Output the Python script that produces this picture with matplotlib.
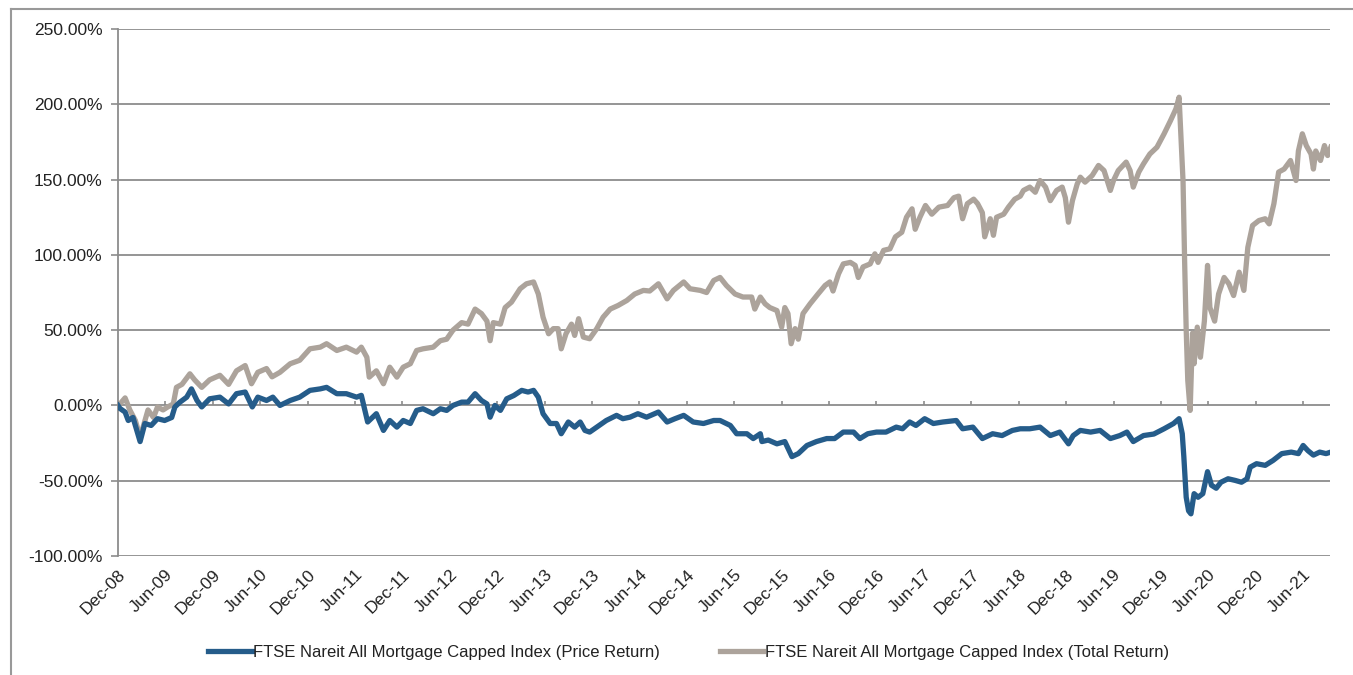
import matplotlib
matplotlib.use("Agg")
import matplotlib.pyplot as plt
from matplotlib.lines import Line2D

plt.rcParams['font.family'] = ['Liberation Sans', 'DejaVu Sans']

# months after Dec-08 (fractional) and cumulative return in %
price_t = [0, 0.25, 0.9, 1.3, 1.9, 2.8, 3.4, 4.2, 5, 5.9, 6.8, 7.2, 7.8, 8.7, 9.3, 10, 10.6,
           11.6, 12.9, 14, 15, 16.1, 17, 17.7, 18.8, 19.6, 20.5, 21.8, 23, 24.3, 25.6, 26.4,
           27.7, 28.9, 30.2, 30.8, 31.6, 32.7, 33.6, 34.4, 35.3, 36.1, 37, 37.8, 38.6, 39.9,
           40.8, 41.6, 42.4, 43.5, 44.3, 45.2, 46, 46.7, 47.1, 47.7, 48.4, 49.2, 50.1, 51.1,
           51.9, 52.6, 53.2, 53.8, 54.7, 55.5, 56.1, 57, 57.8, 58.5, 59.1, 59.7, 60.6, 61.8,
           63.1, 63.9, 64.8, 65.8, 66.9, 68.4, 69.5, 70.5, 71.6, 72.8, 74.1, 75.4, 76.2, 77.5,
           78.3, 79.6, 80.4, 81.3, 81.5, 82.3, 83.4, 84.4, 85.3, 86.1, 87.2, 88.4, 89.7, 90.7,
           91.8, 93.1, 93.9, 94.9, 96, 97.2, 98.5, 99.3, 100.2, 101, 102.1, 103.2, 104.4,
           106.1, 106.9, 108.2, 109.4, 110.7, 111.9, 113.2, 114.2, 115.4, 116.7, 118, 119.2,
           120.3, 120.9, 121.8, 123.1, 124.3, 125.6, 126.8, 127.7, 128.5, 129.8, 131.1, 132.4,
           133.6, 134.3, 134.7, 134.9, 135.2, 135.5, 135.8, 136.2, 136.7, 137.3, 137.9, 138.4,
           139, 139.6, 140.5, 141.4, 142.2, 142.9, 143.3, 144.1, 145.2, 146.2, 147.3, 148.5,
           149.4, 150, 150.6, 151.3, 152.1, 152.9, 153.5]
price_ret = [0, -2, -4.4, -10, -8, -24, -12, -13.3, -8.8, -10, -8, -1, 2, 5.5, 11, 3.3, -1,
             4.4, 5.5, 1, 7.8, 8.9, -1, 5.5, 3.3, 5.5, 0, 3.3, 5.5, 10, 11, 12,
             7.8, 7.8, 5.5, 6.7, -11, -5.5, -16.6, -10, -14.4, -10, -12, -3.3, -2.2, -5.5,
             -2.2, -3.3, 0, 2.2, 2.2, 7.8, 3.3, 1, -7.8, 0, -3.3, 4.4, 6.6, 10,
             8.9, 10, 5.5, -5.5, -12, -12, -18.8, -11, -14.4, -11, -16.6, -17.7, -14.4, -10,
             -6.6, -8.8, -7.8, -5.5, -7.8, -4.4, -11, -8.8, -6.6, -11, -12, -10, -10, -13.3,
             -18.8, -18.8, -22, -18.8, -24, -23, -25.5, -24, -34, -32, -26.6, -24, -22, -22,
             -17.7, -17.7, -22, -18.8, -17.7, -17.7, -14.4, -15.5, -11, -13.3, -8.8, -12, -11,
             -10, -15.5, -14.4, -22, -18.8, -20, -16.6, -15.5, -15.5, -14.4, -20, -17.7,
             -25.5, -20, -16.6, -17.7, -16.6, -22, -20, -17.7, -24, -20, -19, -15.5,
             -12, -8.8, -18.8, -34, -61, -70, -72, -58.6, -61, -58.6, -44, -53,
             -55, -51, -48.7, -49.8, -51, -48.7, -41, -38.7, -39.8, -36.5, -32, -31,
             -32, -26.6, -30, -33, -31, -32, -31]

total_t = [0, 0.25, 0.9, 1.5, 2.2, 2.8, 3.2, 3.8, 4.5, 5, 5.7, 6.3, 7, 7.4, 8.1, 9.1, 9.7,
           10.6, 11.6, 12.9, 14, 15, 16.1, 16.9, 17.7, 18.8, 19.5, 20.5, 21.8, 23, 24.3, 25.6,
           26.4, 27.7, 28.9, 30.2, 30.8, 31.5, 31.8, 32.7, 33.6, 34.4, 35.3, 36.1, 37, 37.8,
           38.6, 39.9, 40.8, 41.6, 42.4, 43.5, 44.3, 45.2, 46, 46.7, 47.1, 47.5, 48.4, 49,
           49.8, 50.9, 51.7, 52.6, 53.2, 53.8, 54.5, 55.1, 55.7, 56.1, 56.7, 57.4, 57.8, 58.3,
           58.9, 59.7, 60.6, 61.4, 62.3, 63.3, 64.4, 65.4, 66.5, 67.3, 68.4, 69.5, 70.3, 71.6,
           72.4, 73.7, 74.5, 75.4, 76.2, 77, 78.1, 79.1, 80.2, 80.6, 81.3, 81.9, 82.5, 83.4,
           84, 84.4, 84.8, 85.2, 85.7, 86.1, 86.7, 87.6, 88.6, 89.5, 90.1, 90.5, 91.2, 91.8,
           92.7, 93.3, 93.7, 94.3, 95.2, 95.8, 96.2, 96.9, 97.7, 98.4, 99.2, 99.8, 100.5,
           100.9, 101.5, 102.2, 103, 103.9, 105, 105.8, 106.4, 106.9, 107.5, 108.3, 108.8,
           109.4, 109.7, 110.4, 110.8, 111.2, 112.1, 112.7, 113.5, 114.2, 114.6, 115.4, 116.1,
           116.7, 117.4, 118, 118.8, 119.5, 119.9, 120.3, 120.8, 121.4, 121.8, 122.4, 123.3,
           124.1, 124.8, 125.6, 126, 126.6, 127.6, 128.1, 128.5, 129.2, 129.8, 130.6, 131.5,
           132.4, 133.2, 133.9, 134.3, 134.6, 134.8, 135, 135.2, 135.4, 135.7, 136, 136.2,
           136.6, 137, 137.5, 137.9, 138.2, 138.8, 139.3, 140, 140.6, 141.2, 141.9, 142.5,
           143, 143.6, 144.4, 145.2, 145.7, 146.3, 146.9, 147.6, 148.4, 149.1, 149.4, 149.9,
           150.4, 151, 151.3, 151.6, 152.2, 152.7, 153.1, 153.5]
total_ret = [0, 1, 5, -3, -10, -21, -14, -3, -8, -1, -3, -1, 1, 12, 14, 21, 17,
             12, 17, 20, 14, 23, 26.5, 14.4, 22, 24.5, 19, 22, 27.7, 30, 37.6, 38.7,
             41, 36.5, 38.7, 35.4, 38.7, 32, 18.8, 23, 14.4, 25.4, 18.8, 25.4, 27.7, 36.5,
             37.6, 38.7, 43, 44, 50, 55, 54, 64, 61, 56, 43, 55, 54, 65,
             68.6, 77.5, 80.8, 82, 74, 58.6, 47.6, 51, 51, 37.6, 47.6, 54, 46.5, 57.6,
             45.4, 44.3, 51, 58.6, 64, 66.4, 69.7, 74, 76.4, 76, 80.8, 70.8, 76.4, 82,
             77.5, 76.4, 75, 83, 85, 79.7, 74, 72, 72, 64, 72, 67.5, 65, 63,
             52, 65, 61, 41, 51, 44, 61, 67.5, 74, 79.7, 82, 76, 87.4, 94,
             95, 93, 85, 92, 94, 100.7, 95, 103, 104, 112, 115, 125, 130.6,
             117, 125, 132.8, 127, 131.7, 132.8, 138, 139, 124, 134, 137, 134,
             128, 112, 124, 113, 125, 127, 131.7, 137, 139, 142.8, 145, 141.6,
             149.4, 145, 136, 142.8, 145, 138, 121.7, 136, 147, 151.6, 148.3, 152.7,
             159.4, 156, 142.8, 149.4, 156, 161.6, 156, 145, 155, 160.5, 167, 171.5,
             180.4, 189, 197, 204.7, 171.5, 149, 96, 50, 16.6, -3.3, 48, 27.7,
             52, 32, 56, 93, 65, 56, 74, 85, 80.8, 73, 88.5, 76.4,
             105, 119.5, 122.8, 124, 120.6, 134, 155, 157, 162.7, 149.4, 169, 180.4,
             172.6, 167, 157, 169, 162.7, 172.6, 166, 171.5]

tick_months = list(range(0, 151, 6))
tick_labels = []
for i, m in enumerate(tick_months):
    yr = 8 + (m + 11) // 12
    tick_labels.append(('Dec-' if i % 2 == 0 else 'Jun-') + '%02d' % yr)

blue = '#255c8a'
taupe = '#aca39b'
grid_c = '#8c8c8c'

fig = plt.figure(figsize=(13.53, 6.75), dpi=100)
ax = fig.add_axes([0.0872, 0.1763, 0.8958, 0.7807])

ax.plot(price_t, price_ret, color=blue, lw=3.8, solid_joinstyle='round',
        label='FTSE Nareit All Mortgage Capped Index (Price Return)', zorder=3)
ax.plot(total_t, total_ret, color=taupe, lw=3.8, solid_joinstyle='round',
        label='FTSE Nareit All Mortgage Capped Index (Total Return)', zorder=2)

ax.set_xlim(0, 153.4)
ax.set_ylim(-100, 250)
ax.set_yticks(range(-100, 251, 50))
ax.set_yticklabels(['%.2f%%' % v for v in range(-100, 251, 50)])
ax.yaxis.grid(True, color=grid_c, lw=1.3)
ax.set_axisbelow(True)

ax.set_xticks(tick_months)
ax.set_xticklabels(tick_labels, rotation=45, ha='right', va='top', rotation_mode='anchor')
ax.tick_params(axis='x', length=0, pad=8, labelsize=12.5, labelcolor='#222222')
ax.tick_params(axis='y', length=5, width=1.2, color=grid_c, pad=6, labelsize=12.5,
               labelcolor='#222222')

# small tick marks on the zero line
ax.vlines(tick_months, 0, 2.8, color=grid_c, lw=1.2, zorder=1)

for s in ['top', 'right', 'bottom']:
    ax.spines[s].set_visible(False)
ax.spines['left'].set_color(grid_c)
ax.spines['left'].set_linewidth(1.3)

fig.legend(loc='center', bbox_to_anchor=(0.509, 0.034), ncol=2, frameon=False,
           fontsize=12, handlelength=2.6, handletextpad=0.1, columnspacing=3.6,
           labelcolor='#222222')

# outer frame (top and left edges visible)
fig.add_artist(Line2D([0.0081, 0.0081], [0, 0.986], color='#999999', lw=1.5))
fig.add_artist(Line2D([0.0081, 1], [0.986, 0.986], color='#999999', lw=1.5))

fig.savefig('out.png', dpi=100)
